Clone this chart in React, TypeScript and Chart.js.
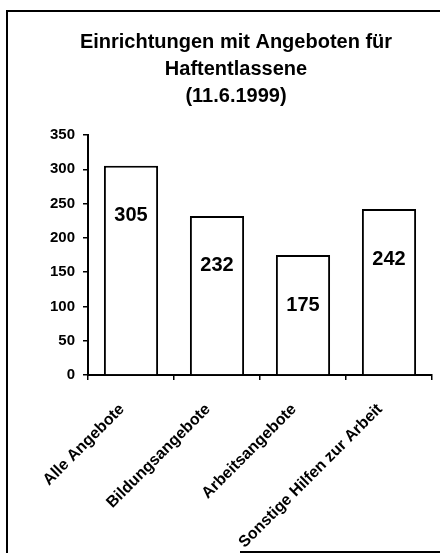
import React, { useEffect, useRef } from "react";
import { Chart, registerables } from "chart.js";

Chart.register(...registerables);

const titleLines = ["Einrichtungen mit Angeboten für", "Haftentlassene", "(11.6.1999)"];
const categories = ["Alle Angebote", "Bildungsangebote", "Arbeitsangebote", "Sonstige Hilfen zur Arbeit"];
const values = [305, 232, 175, 242];
const yMin = 0;
const yMax = 350;
const yStep = 50;

const FONT = "'Liberation Sans', Arial, sans-serif";

const valueLabelPlugin = {
  id: "valueLabels",
  afterDatasetsDraw(chart: any) {
    const ctx = chart.ctx;
    const meta = chart.getDatasetMeta(0);
    ctx.save();
    ctx.font = `bold 20px ${FONT}`;
    ctx.fillStyle = "#000";
    ctx.textAlign = "center";
    ctx.textBaseline = "middle";
    meta.data.forEach((bar: any, i: number) => {
      ctx.fillText(String(values[i]), bar.x, bar.y + 50);
    });
    ctx.restore();
  },
};

export default function App() {
  const canvasRef = useRef<HTMLCanvasElement | null>(null);

  useEffect(() => {
    if (!canvasRef.current) return;
    const chart = new Chart(canvasRef.current, {
      type: "bar",
      data: {
        labels: categories,
        datasets: [
          {
            data: values,
            backgroundColor: "#ffffff",
            borderColor: "#000000",
            borderWidth: 2,
            borderSkipped: "start",
            categoryPercentage: 1,
            barPercentage: 0.63,
          },
        ],
      },
      options: {
        responsive: false,
        animation: false,
        devicePixelRatio: 1,
        layout: { padding: { left: 40, right: 8, top: 0, bottom: 0 } },
        plugins: {
          legend: { display: false },
          tooltip: { enabled: false },
          title: {
            display: true,
            text: titleLines,
            color: "#000",
            font: { family: FONT, size: 20, weight: "bold", lineHeight: 1.35 },
            padding: { top: 28.5, bottom: 25.5 },
          },
        },
        scales: {
          x: {
            grid: {
              offset: true,
              drawOnChartArea: false,
              drawTicks: true,
              tickLength: 5,
              color: "#000",
              lineWidth: 1.5,
            },
            border: { color: "#000", width: 2 },
            ticks: {
              autoSkip: false,
              minRotation: 45,
              maxRotation: 45,
              labelOffset: -9,
              padding: 20,
              color: "#000",
              font: { family: FONT, size: 16, weight: "bold" },
            },
            afterFit(scale: any) {
              scale.height = 178;
            },
          },
          y: {
            min: yMin,
            max: yMax,
            grid: {
              drawOnChartArea: false,
              drawTicks: true,
              tickLength: 5,
              color: "#000",
              lineWidth: 1.5,
            },
            border: { color: "#000", width: 2 },
            ticks: {
              stepSize: yStep,
              padding: 8,
              color: "#000",
              font: { family: FONT, size: 15, weight: "bold" },
            },
            afterFit(scale: any) {
              scale.width = 48;
            },
          },
        },
      },
      plugins: [valueLabelPlugin],
    });
    return () => chart.destroy();
  }, []);

  return (
    <div style={{ position: "absolute", left: 0, top: 0, width: 440, height: 553, background: "#fff", overflow: "hidden" }}>
      <div style={{ position: "absolute", left: 6, top: 10, width: 440, height: 600, borderLeft: "2px solid #000", borderTop: "2px solid #000" }} />
      <div style={{ position: "absolute", left: 240, top: 551, width: 200, height: 0, borderTop: "2px solid #000" }} />
      <canvas ref={canvasRef} width={440} height={553} style={{ position: "absolute", left: 0, top: 0, width: 440, height: 553 }} />
    </div>
  );
}
